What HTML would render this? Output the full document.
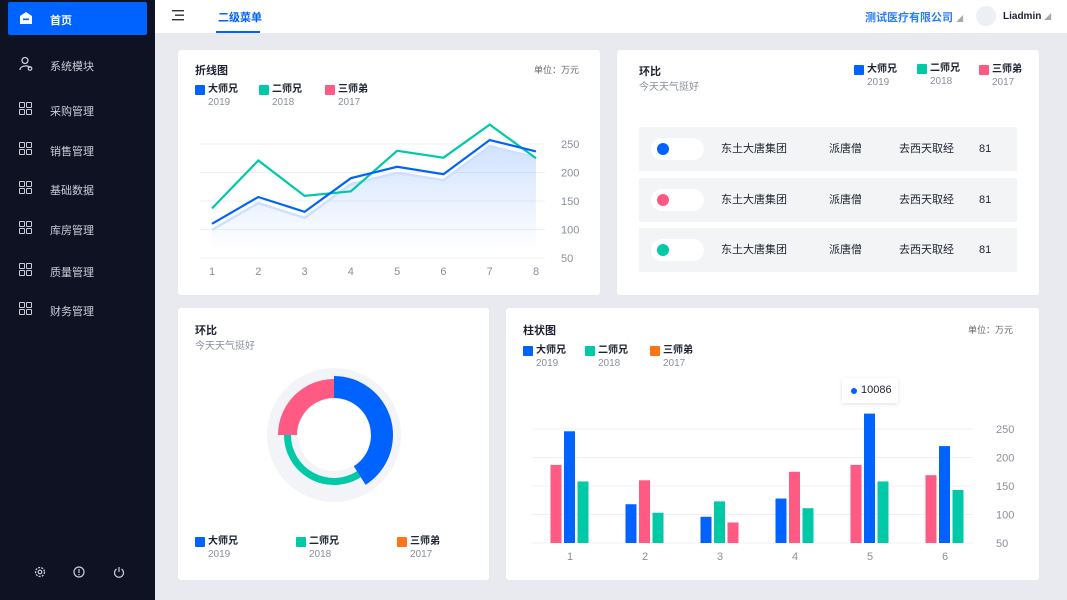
<!DOCTYPE html>
<html><head><meta charset="utf-8">
<style>
*{margin:0;padding:0;box-sizing:border-box}
body{width:1067px;height:600px;overflow:hidden;background:#e9eaf0;font-family:"Liberation Sans","Noto Sans CJK SC",sans-serif;position:relative;color:#1f2233}
.abs{position:absolute}
#side{left:0;top:0;width:155px;height:600px;background:#0f1222}
.item{position:absolute;left:0;width:155px;height:20px;color:#c9ccd6;font-size:11px}
.item span{position:absolute;left:50px;top:3px}
.gicon{position:absolute;left:19px;top:2px;width:14px;height:14px}
.gicon i{position:absolute;width:6px;height:6px;border:1.4px solid #c9ccd6;border-radius:1px}
.card{position:absolute;background:#fff;border-radius:3px}
.title{position:absolute;font-size:11px;font-weight:bold;color:#1f2233}
.sub{position:absolute;font-size:10px;color:#8a8f9c}
.leg{position:absolute;font-size:10px;font-weight:bold;color:#1f2233}
.leg b{position:absolute;left:0;top:1px;width:10px;height:10px;border-radius:1px}
.leg span{position:absolute;left:13px;top:0;white-space:nowrap;line-height:12px}
.leg em{position:absolute;left:13px;top:13px;font-style:normal;font-weight:normal;color:#8a8f9c;font-size:10px;line-height:12px}
.row{position:absolute;left:22px;width:378px;height:44px;background:#f3f4f6;font-size:11px}
.row .pill{position:absolute;left:12px;top:11px;width:53px;height:22px;background:#fff;border-radius:11px}
.row .pill i{position:absolute;left:6px;top:5px;width:12px;height:12px;border-radius:6px}
.row span{position:absolute;top:16px;line-height:12px}
svg text{font-family:"Liberation Sans",sans-serif}
</style></head><body>
<div id="side" class="abs">
  <div class="abs" style="left:8px;top:2px;width:139px;height:33px;background:#0062ff;border-radius:2px">
    <svg class="abs" style="left:11px;top:9px" width="14" height="14" viewBox="0 0 14 14"><path d="M7 1 L13 5 V13 H1 V5 Z" fill="#fff"/><rect x="4" y="7.5" width="6" height="1.6" fill="#0062ff"/></svg>
    <span class="abs" style="left:42px;top:10px;color:#fff;font-size:11px;font-weight:bold">首页</span>
  </div>
  <div class="item" style="top:55px">
    <svg class="abs" style="left:18px;top:1px" width="15" height="15" viewBox="0 0 15 15"><circle cx="7" cy="4.5" r="3" fill="none" stroke="#c9ccd6" stroke-width="1.3"/><path d="M2 14 C2 9 12 9 12 12" fill="none" stroke="#c9ccd6" stroke-width="1.3"/><circle cx="12" cy="12.5" r="1.8" fill="none" stroke="#c9ccd6" stroke-width="1.2"/></svg><span>系统模块</span></div>
  <div class="item" style="top:100px"><div class="gicon"><i style="left:0;top:0"></i><i style="left:7px;top:0"></i><i style="left:0;top:7px"></i><i style="left:7px;top:7px"></i></div><span>采购管理</span></div>
  <div class="item" style="top:140px"><div class="gicon"><i style="left:0;top:0"></i><i style="left:7px;top:0"></i><i style="left:0;top:7px"></i><i style="left:7px;top:7px"></i></div><span>销售管理</span></div>
  <div class="item" style="top:179px"><div class="gicon"><i style="left:0;top:0"></i><i style="left:7px;top:0"></i><i style="left:0;top:7px"></i><i style="left:7px;top:7px"></i></div><span>基础数据</span></div>
  <div class="item" style="top:219px"><div class="gicon"><i style="left:0;top:0"></i><i style="left:7px;top:0"></i><i style="left:0;top:7px"></i><i style="left:7px;top:7px"></i></div><span>库房管理</span></div>
  <div class="item" style="top:261px"><div class="gicon"><i style="left:0;top:0"></i><i style="left:7px;top:0"></i><i style="left:0;top:7px"></i><i style="left:7px;top:7px"></i></div><span>质量管理</span></div>
  <div class="item" style="top:300px"><div class="gicon"><i style="left:0;top:0"></i><i style="left:7px;top:0"></i><i style="left:0;top:7px"></i><i style="left:7px;top:7px"></i></div><span>财务管理</span></div>
  <svg class="abs" style="left:34px;top:566px" width="12" height="12"><circle cx="6" cy="6" r="4.5" fill="none" stroke="#c9ccd6" stroke-width="1.3" stroke-dasharray="2 1.2"/><circle cx="6" cy="6" r="1.8" fill="none" stroke="#c9ccd6" stroke-width="1.2"/></svg>
  <svg class="abs" style="left:73px;top:566px" width="12" height="12"><circle cx="6" cy="6" r="5" fill="none" stroke="#c9ccd6" stroke-width="1.2"/><rect x="5.4" y="3" width="1.2" height="4" fill="#c9ccd6"/><rect x="5.4" y="8" width="1.2" height="1.2" fill="#c9ccd6"/></svg>
  <svg class="abs" style="left:113px;top:566px" width="12" height="12"><path d="M3.5 3 A4.5 4.5 0 1 0 8.5 3" fill="none" stroke="#c9ccd6" stroke-width="1.2"/><rect x="5.4" y="1" width="1.2" height="5" fill="#c9ccd6"/></svg>
</div>

<div class="abs" style="left:155px;top:0;width:912px;height:33px;background:#fff">
  <svg class="abs" style="left:17px;top:10px" width="13" height="11"><rect x="0" y="0" width="12" height="1.4" fill="#333"/><rect x="3" y="4.5" width="9" height="1.4" fill="#333"/><rect x="0" y="9" width="12" height="1.4" fill="#333"/></svg>
  <span class="abs" style="left:63px;top:9px;font-size:11px;color:#0062ff;font-weight:bold">二级菜单</span>
  <div class="abs" style="left:61px;top:31px;width:44px;height:2px;background:#0062ff"></div>
  <span class="abs" style="left:710px;top:9px;font-size:11px;color:#2a7bff;font-weight:bold">测试医疗有限公司 <small style="color:#aaa;font-size:7px">◢</small></span>
  <div class="abs" style="left:821px;top:6px;width:20px;height:20px;border-radius:10px;background:#eceff4"></div>
  <span class="abs" style="left:848px;top:11px;font-size:10px;font-weight:bold;color:#1f2233">Liadmin <small style="color:#aaa;font-size:7px">◢</small></span>
</div>

<div class="card" style="left:178px;top:50px;width:422px;height:245px">
  <div class="title" style="left:17px;top:12px">折线图</div>
  <div class="sub" style="left:356px;top:13px;font-size:9px;color:#666">单位：万元</div>
  <div class="leg" style="left:17px;top:34px"><b style="background:#0062ff"></b><span>大师兄</span><em>2019</em></div>
  <div class="leg" style="left:81px;top:34px"><b style="background:#00c9a7"></b><span>二师兄</span><em>2018</em></div>
  <div class="leg" style="left:147px;top:34px"><b style="background:#ff5a84"></b><span>三师弟</span><em>2017</em></div>
  <svg id="lineSvg" class="abs" style="left:0;top:0" width="422" height="245"></svg>
</div>

<div class="card" style="left:617px;top:50px;width:422px;height:245px">
  <div class="title" style="left:22px;top:13px">环比</div>
  <div class="sub" style="left:22px;top:28px">今天天气挺好</div>
  <div class="leg" style="left:237px;top:14px"><b style="background:#0062ff"></b><span>大师兄</span><em>2019</em></div>
  <div class="leg" style="left:300px;top:13px"><b style="background:#00c9a7"></b><span>二师兄</span><em>2018</em></div>
  <div class="leg" style="left:362px;top:14px"><b style="background:#ff5a84"></b><span>三师弟</span><em>2017</em></div>
  <div class="row" style="top:77px"><div class="pill"><i style="background:#0062ff"></i></div><span style="left:82px">东土大唐集团</span><span style="left:190px">派唐僧</span><span style="left:260px">去西天取经</span><span style="left:340px">81</span></div>
  <div class="row" style="top:128px"><div class="pill"><i style="background:#ff5a84"></i></div><span style="left:82px">东土大唐集团</span><span style="left:190px">派唐僧</span><span style="left:260px">去西天取经</span><span style="left:340px">81</span></div>
  <div class="row" style="top:178px"><div class="pill"><i style="background:#00c9a7"></i></div><span style="left:82px">东土大唐集团</span><span style="left:190px">派唐僧</span><span style="left:260px">去西天取经</span><span style="left:340px">81</span></div>
</div>

<div class="card" style="left:178px;top:308px;width:311px;height:272px">
  <div class="title" style="left:17px;top:14px">环比</div>
  <div class="sub" style="left:17px;top:29px">今天天气挺好</div>
  <svg id="donutSvg" class="abs" style="left:0;top:0" width="311" height="230"></svg>
  <div class="leg" style="left:17px;top:228px"><b style="background:#0062ff"></b><span>大师兄</span><em>2019</em></div>
  <div class="leg" style="left:118px;top:228px"><b style="background:#00c9a7"></b><span>二师兄</span><em>2018</em></div>
  <div class="leg" style="left:219px;top:228px"><b style="background:#ff7418"></b><span>三师弟</span><em>2017</em></div>
</div>

<div class="card" style="left:506px;top:308px;width:533px;height:272px">
  <div class="title" style="left:17px;top:14px">柱状图</div>
  <div class="sub" style="left:462px;top:15px;font-size:9px;color:#666">单位：万元</div>
  <div class="leg" style="left:17px;top:37px"><b style="background:#0062ff"></b><span>大师兄</span><em>2019</em></div>
  <div class="leg" style="left:79px;top:37px"><b style="background:#00c9a7"></b><span>二师兄</span><em>2018</em></div>
  <div class="leg" style="left:144px;top:37px"><b style="background:#ff7418"></b><span>三师弟</span><em>2017</em></div>
  <svg id="barSvg" class="abs" style="left:0;top:0" width="533" height="272"></svg>
  <div class="abs" style="left:336px;top:70px;width:56px;height:25px;background:#fff;box-shadow:0 1px 4px rgba(0,0,0,.12);font-size:11px">
    <i class="abs" style="left:9px;top:10px;width:6px;height:6px;border-radius:3px;background:#0062ff"></i>
    <span class="abs" style="left:19px;top:6px">10086</span>
  </div>
</div>

<script>
const NS='http://www.w3.org/2000/svg';
function mk(p,tag,attrs){const e=document.createElementNS(NS,tag);for(const k in attrs)e.setAttribute(k,attrs[k]);p.appendChild(e);return e;}

const lineCats=[1,2,3,4,5,6,7,8];
const lineBlue=[110,157,131,190,210,197,257,237];
const lineTeal=[137,221,159,167,238,226,284,225];
const lineTicks=[50,100,150,200,250];

const barCats=[1,2,3,4,5,6];
const barBlue=[246,118,96,128,277,220];
const barPink=[187,160,86,175,187,169];
const barTeal=[158,103,123,111,158,143];
const barOrder=[['pink','blue','teal'],['blue','pink','teal'],['blue','teal','pink'],['blue','pink','teal'],['pink','blue','teal'],['pink','blue','teal']];
const barTicks=[50,100,150,200,250];

const donutLabels=['大师兄','二师兄','三师弟'];
const donutValues=[41,34,25];

(function(){
  const s=document.getElementById('lineSvg');
  const y=v=>208-(v-50)*0.57, x=i=>34+(i-1)*(324/7);
  lineTicks.forEach(t=>{
    const l=mk(s,'line',{x1:22,x2:367,y1:y(t),y2:y(t),stroke:'#eef0f5','stroke-width':1});
    
    
    const tx=mk(s,'text',{x:383,y:y(t)+4,'font-size':11,fill:'#8a8f9c'});tx.textContent=t;
    
    
  });
  lineCats.forEach(c=>{const tx=mk(s,'text',{x:x(c),y:225,'font-size':11,fill:'#8a8f9c','text-anchor':'middle'});tx.textContent=c;
    
    });
  const defs=mk(s,'defs',{});const g=mk(defs,'linearGradient',{id:'lg',x1:0,y1:0,x2:0,y2:1});
  mk(g,'stop',{offset:'0','stop-color':'#0062ff','stop-opacity':'0.18'});mk(g,'stop',{offset:'1','stop-color':'#0062ff','stop-opacity':'0'});
  const sh=lineBlue.map((v,i)=>[x(lineCats[i]),y(v)+6]);
  const area=mk(s,'path',{d:'M'+sh.map(p=>p.join(',')).join('L')+`L${x(8)},200L${x(1)},200Z`,fill:'url(#lg)'});
  
  
  const shl=mk(s,'polyline',{points:sh.map(p=>p.join(',')).join(' '),fill:'none',stroke:'#cfe0ff','stroke-width':2.5});
  
  
  const t=mk(s,'polyline',{points:lineTeal.map((v,i)=>x(lineCats[i])+','+y(v)).join(' '),fill:'none',stroke:'#00c9a7','stroke-width':2.2});
  
  
  const b=mk(s,'polyline',{points:lineBlue.map((v,i)=>x(lineCats[i])+','+y(v)).join(' '),fill:'none',stroke:'#0062ff','stroke-width':2.2});
  
  
})();

(function(){
  const s=document.getElementById('barSvg');
  const y=v=>235-(v-50)*0.57, cx=i=>64+(i-1)*75;
  barTicks.forEach(t=>{
    const l=mk(s,'line',{x1:26,x2:467,y1:y(t),y2:y(t),stroke:'#eef0f5','stroke-width':1});
    
    
    const tx=mk(s,'text',{x:490,y:y(t)+4,'font-size':11,fill:'#8a8f9c'});tx.textContent=t;
    
    
  });
  const ser={blue:[barBlue,'#0062ff'],pink:[barPink,'#ff5a84'],teal:[barTeal,'#00c9a7']};
  barCats.forEach((c,i)=>{
    const tx=mk(s,'text',{x:cx(c),y:252,'font-size':11,fill:'#8a8f9c','text-anchor':'middle'});tx.textContent=c;
    
    
    barOrder[i].forEach((k,j)=>{
      const v=ser[k][0][i];
      const r=mk(s,'rect',{x:cx(c)-19.5+j*13.5,y:y(v),width:11,height:y(50)-y(v),fill:ser[k][1]});
      
      
    });
  });
})();

(function(){
  const s=document.getElementById('donutSvg');
  const cx=156,cy=127;
  const bg=mk(s,'circle',{cx:cx,cy:cy,r:67,fill:'#f3f4f8'});
  
  
  mk(s,'circle',{cx:cx,cy:cy,r:36,fill:'#fff'});
  const cols=['#0062ff','#00c9a7','#ff5a84'];
  const radii=[[37,59],[43,50],[37,56]];
  const tot=donutValues.reduce((a,b)=>a+b,0);
  let a0=0;
  donutValues.forEach((v,i)=>{
    const a1=a0+v/tot*2*Math.PI;
    const [ri,ro]=radii[i];
    const P=(r,a)=>[cx+r*Math.sin(a),cy-r*Math.cos(a)];
    const lg=(a1-a0)>Math.PI?1:0;
    const p1=P(ro,a0),p2=P(ro,a1),p3=P(ri,a1),p4=P(ri,a0);
    const p=mk(s,'path',{d:`M${p1}A${ro},${ro} 0 ${lg} 1 ${p2}L${p3}A${ri},${ri} 0 ${lg} 0 ${p4}Z`,fill:cols[i]});
    
    
    a0=a1;
  });
})();
</script>
</body></html>
